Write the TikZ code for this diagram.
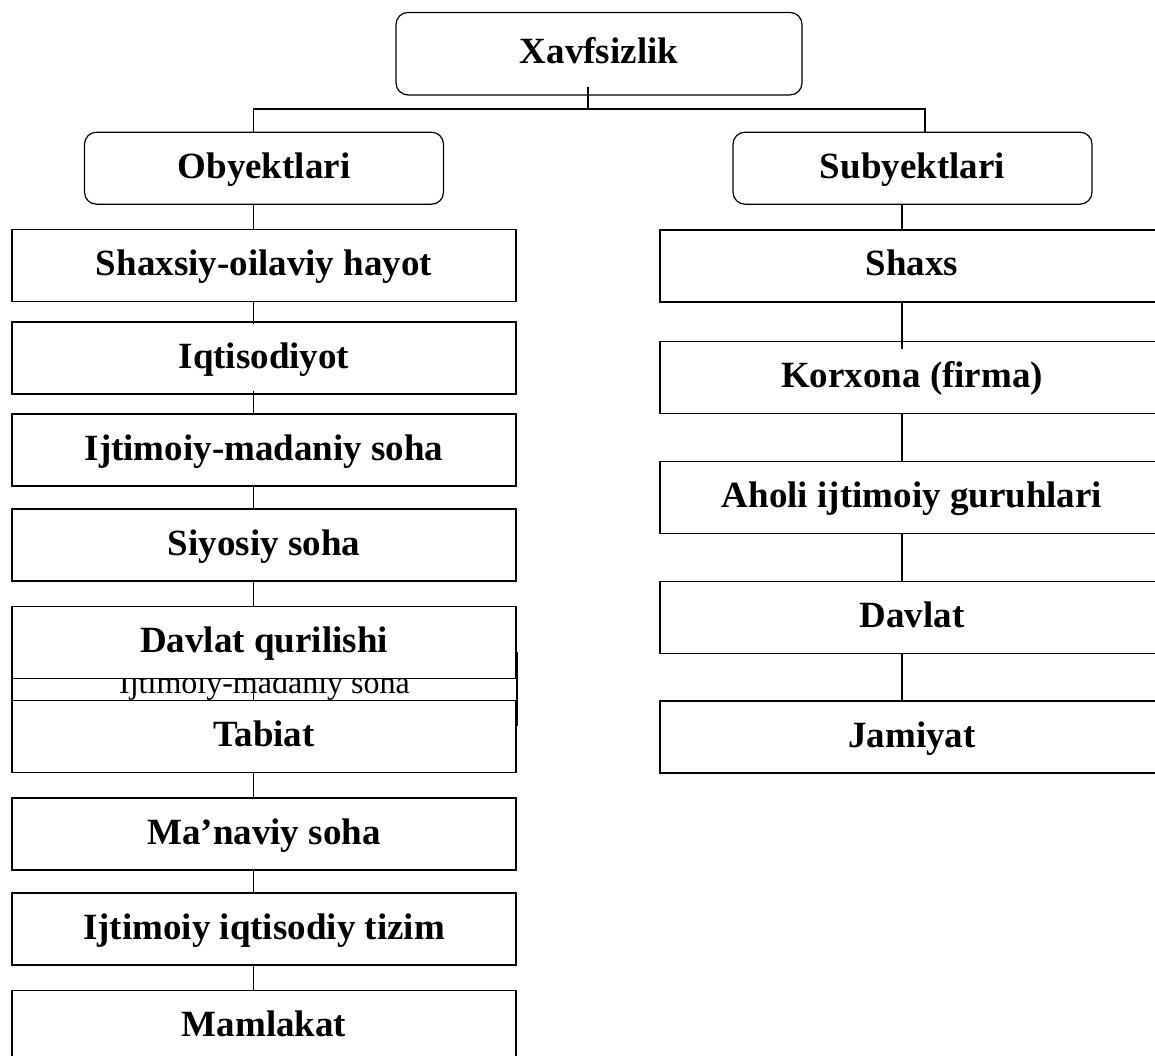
\documentclass[tikz,border=0pt]{standalone}
\usepackage{fontspec}
\setmainfont{Liberation Serif}
\usepackage{tikz}
\tikzset{
  headbox/.style={draw, fill=white, rounded corners=12pt, inner sep=0pt,
    font=\fontsize{37}{44}\selectfont\bfseries, text height=26pt, text depth=6pt},
  itembox/.style={draw, fill=white, inner sep=0pt, minimum width=504pt, minimum height=72pt,
    font=\fontsize{37}{44}\selectfont\bfseries, text height=26pt, text depth=6pt},
  behindbox/.style={draw, inner sep=0pt, minimum width=505pt, minimum height=73pt,
    font=\fontsize{32}{38}\selectfont, text height=19pt, text depth=10pt}
}

\begin{document}
\begin{tikzpicture}[x=1pt,y=-1pt,line width=1.2pt]
\useasboundingbox (0,0) rectangle (1155,1056);
\clip (0,0) rectangle (1155,1056);
\node[behindbox] (ortda) at (264.5,689.2) {Ijtimoiy-madaniy soha};
\node[headbox, minimum width=406pt, minimum height=82.5pt] (xavf) at (599,53.7) {Xavfsizlik};
\node[headbox, minimum width=359pt, minimum height=72pt] (obyekt) at (264,168.2) {Obyektlari};
\node[headbox, minimum width=359pt, minimum height=72pt] (subyekt) at (912.5,168.2) {Subyektlari};
\node[itembox] (shaxsiy) at (264,265.8) {Shaxsiy-oilaviy hayot};
\node[itembox] (iqtisod) at (264,358) {Iqtisodiyot};
\node[itembox] (madaniy) at (264,450) {Ijtimoiy-madaniy soha};
\node[itembox] (siyosiy) at (264,545) {Siyosiy soha};
\node[itembox] (qurilish) at (264,642.5) {Davlat qurilishi};
\node[itembox] (tabiat) at (264,736.7) {Tabiat};
\node[itembox] (manaviy) at (264,834) {Ma’naviy soha};
\node[itembox] (tizim) at (264,929) {Ijtimoiy iqtisodiy tizim};
\node[itembox] (mamlakat) at (264,1026.5) {Mamlakat};
\node[itembox] (shaxs) at (912,266) {Shaxs};
\node[itembox] (korxona) at (912,377.5) {Korxona (firma)};
\node[itembox] (guruh) at (912,497.5) {Aholi ijtimoiy guruhlari};
\node[itembox] (davlat) at (912,617.5) {Davlat};
\node[itembox] (jamiyat) at (912,737) {Jamiyat};
\coordinate (ustun) at (253.5,109);
\coordinate (markaz) at (588,109);
\coordinate (ong) at (925,109);
\coordinate (oqim) at (902,0);
\draw[shorten <=-9pt] (xavf.south -| markaz) -- (markaz) -| (obyekt.north -| ustun);
\draw (markaz) -| (subyekt.north -| ong);
\draw (obyekt.south -| ustun) -- (shaxsiy.north -| ustun);
\draw[shorten >=-3pt] (shaxsiy.south -| ustun) -- (iqtisod.north -| ustun);
\draw[shorten <=-4pt] (iqtisod.south -| ustun) -- (madaniy.north -| ustun);
\draw (madaniy.south -| ustun) -- (siyosiy.north -| ustun);
\draw (siyosiy.south -| ustun) -- (qurilish.north -| ustun);
\draw (qurilish.south -| ustun) -- (tabiat.north -| ustun);
\draw (tabiat.south -| ustun) -- (manaviy.north -| ustun);
\draw (manaviy.south -| ustun) -- (tizim.north -| ustun);
\draw (tizim.south -| ustun) -- (mamlakat.north -| ustun);
\draw (subyekt.south -| oqim) -- (shaxs.north -| oqim);
\draw[shorten >=-8pt] (shaxs.south -| oqim) -- (korxona.north -| oqim);
\draw (korxona.south -| oqim) -- (guruh.north -| oqim);
\draw (guruh.south -| oqim) -- (davlat.north -| oqim);
\draw (davlat.south -| oqim) -- (jamiyat.north -| oqim);
\end{tikzpicture}
\end{document}
